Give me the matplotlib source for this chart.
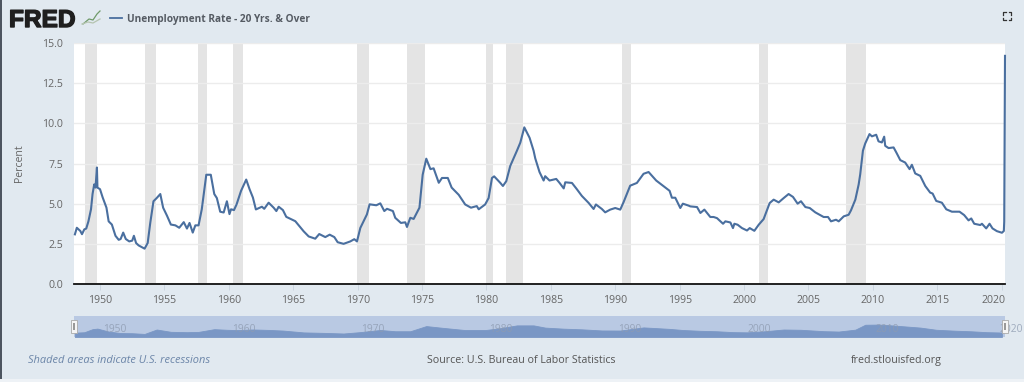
import matplotlib
matplotlib.use("Agg")
import matplotlib.pyplot as plt
import matplotlib.patheffects as pe
from matplotlib.patches import Rectangle
from matplotlib.transforms import ScaledTranslation

W, H = 1024, 382
BG = "#e1e9f0"
LINE = "#4a6f9f"

# decimal year and rate, one pair of lists per stretch
yrs_a = [1948.05, 1948.2, 1948.47, 1948.6, 1948.78, 1948.93, 1949.1, 1949.3, 1949.42, 1949.55,
         1949.65, 1949.76, 1949.8, 1950.0, 1950.2, 1950.5, 1950.67, 1950.92, 1951.2, 1951.45,
         1951.6, 1951.8, 1952.0, 1952.27, 1952.5, 1952.63, 1952.8, 1953.0, 1953.46, 1953.7,
         1953.9, 1954.15, 1954.4, 1954.68, 1954.9, 1955.2, 1955.5, 1955.85, 1956.15, 1956.5,
         1956.75, 1956.95, 1957.2, 1957.4, 1957.65, 1957.9, 1958.25, 1958.6, 1958.87, 1959.07,
         1959.33, 1959.6, 1959.85, 1960.05, 1960.17, 1960.4, 1960.6, 1960.95, 1961.35]
val_a = [3.09, 3.5, 3.3, 3.1, 3.4, 3.45, 3.9, 4.65, 5.6, 6.2,
         6.0, 7.25, 6.0, 5.9, 5.4, 4.75, 3.9, 3.7, 3.0, 2.75,
         2.8, 3.2, 2.8, 2.65, 2.7, 3.0, 2.55, 2.4, 2.2, 2.55,
         3.8, 5.15, 5.35, 5.6, 4.75, 4.25, 3.7, 3.65, 3.5, 3.85,
         3.45, 3.8, 3.2, 3.65, 3.65, 4.65, 6.8, 6.8, 5.6, 5.35,
         4.5, 4.45, 5.15, 4.35, 4.65, 4.6, 4.95, 5.8, 6.5]

yrs_b = [1961.61, 1961.87, 1962.1, 1962.57, 1962.75, 1963.09, 1963.48, 1963.69, 1963.87, 1964.2,
         1964.46, 1964.9, 1965.16, 1965.81, 1966.2, 1966.71, 1967.02, 1967.49, 1967.83, 1968.19,
         1968.45, 1968.91, 1969.43, 1969.74, 1969.95, 1970.21, 1970.72, 1970.93, 1971.45, 1971.76,
         1972.07, 1972.28, 1972.74, 1972.92, 1973.36, 1973.7, 1973.83, 1974.09]
val_b = [5.9, 5.38, 4.64, 4.81, 4.68, 5.06, 4.75, 4.54, 4.81, 4.6,
         4.18, 4.01, 3.91, 3.28, 2.96, 2.82, 3.11, 2.92, 3.07, 2.92,
         2.6, 2.5, 2.65, 2.79, 2.65, 3.49, 4.33, 4.96, 4.9, 5.02,
         4.54, 4.68, 4.54, 4.12, 3.8, 3.84, 3.55, 4.12]

yrs_c = [1974.35, 1974.8, 1975.05, 1975.33, 1975.65, 1975.9, 1976.3, 1976.55, 1977.0, 1977.3,
         1977.85, 1978.35, 1978.8, 1979.25, 1979.4, 1979.9, 1980.17, 1980.43, 1980.6, 1981.07,
         1981.28, 1981.54, 1981.85, 1982.37, 1982.63, 1982.94, 1983.35, 1983.66]
val_c = [4.05, 4.75, 6.8, 7.8, 7.15, 7.2, 6.3, 6.6, 6.6, 6.0,
         5.55, 4.95, 4.75, 4.85, 4.65, 4.95, 5.35, 6.6, 6.7, 6.3,
         6.1, 6.4, 7.35, 8.3, 8.8, 9.75, 9.1, 8.3]

yrs_d = [1983.79, 1984.12, 1984.44, 1984.56, 1984.9, 1985.42, 1985.68, 1986.0, 1986.12, 1986.64,
         1987.02, 1987.41, 1987.93, 1988.32, 1988.5, 1988.96, 1989.22, 1989.61, 1990.0, 1990.39,
         1990.65, 1991.16, 1991.68, 1992.2, 1992.59, 1993.18, 1993.88, 1994.22, 1994.4, 1994.66,
         1995.05, 1995.25, 1995.69]
val_d = [7.82, 6.97, 6.44, 6.71, 6.44, 6.54, 6.29, 5.95, 6.33, 6.29,
         5.9, 5.48, 5.05, 4.67, 4.95, 4.67, 4.46, 4.63, 4.73, 4.63,
         5.1, 6.12, 6.29, 6.86, 6.97, 6.44, 6.01, 5.8, 5.37, 5.37,
         4.73, 5.0, 4.88]

yrs_e = [1995.83, 1996.35, 1996.61, 1996.92, 1997.38, 1997.64, 1997.9, 1998.37, 1998.55, 1998.94,
         1999.14, 1999.25, 1999.5, 1999.84, 2000.23, 2000.44, 2000.8, 2001.14, 2001.52, 2001.99,
         2002.3, 2002.69, 2003.08, 2003.46, 2003.8, 2004.16, 2004.42, 2004.76, 2005.1, 2005.53,
         2006.18, 2006.52, 2006.75, 2007.14, 2007.35, 2007.74, 2008.12, 2008.3, 2008.64, 2008.9]
val_e = [4.83, 4.79, 4.42, 4.63, 4.17, 4.17, 4.1, 3.75, 3.9, 3.83,
         3.48, 3.75, 3.69, 3.48, 3.33, 3.48, 3.31, 3.69, 4.04, 5.04,
         5.25, 5.08, 5.35, 5.6, 5.42, 5.0, 5.15, 4.79, 4.73, 4.46,
         4.17, 4.17, 3.9, 4.0, 3.9, 4.21, 4.31, 4.58, 5.25, 6.2]

yrs_f = [2009.02, 2009.23, 2009.41, 2009.74, 2009.93, 2010.26, 2010.44, 2010.7, 2010.88, 2010.96,
         2011.22, 2011.61, 2011.82, 2012.13, 2012.51, 2012.85, 2013.03, 2013.29, 2013.68, 2014.07,
         2014.45, 2014.64, 2014.92, 2015.36, 2015.7, 2016.14, 2016.4, 2016.73, 2017.09, 2017.43,
         2017.64, 2017.87, 2018.34, 2018.47, 2018.8, 2019.06, 2019.29, 2019.63, 2020.02, 2020.17,
         2020.2, 2020.26]
val_f = [6.83, 8.3, 8.75, 9.33, 9.19, 9.29, 8.88, 8.81, 9.17, 8.6,
         8.46, 8.5, 8.19, 7.71, 7.56, 7.15, 7.42, 6.88, 6.73, 6.1,
         5.69, 5.63, 5.17, 5.06, 4.65, 4.5, 4.5, 4.5, 4.29, 3.96,
         4.08, 3.75, 3.67, 3.75, 3.46, 3.75, 3.46, 3.29, 3.19, 3.3,
         3.9, 14.2]

years = yrs_a + yrs_b + yrs_c + yrs_d + yrs_e + yrs_f
rate = val_a + val_b + val_c + val_d + val_e + val_f

rec_start = [1948.85, 1953.5, 1957.6, 1960.3, 1969.95, 1973.85, 1980.0, 1981.5, 1990.5, 2001.2, 2007.95]
rec_end = [1949.8, 1954.35, 1958.3, 1961.1, 1970.85, 1975.2, 1980.5, 1982.85, 1991.2, 2001.85, 2009.45]

x_ticks = list(range(1950, 2021, 5))
nav_ticks = list(range(1950, 2021, 10))
y_ticks = [0, 2.5, 5, 7.5, 10, 12.5, 15]

XLIM = (1947.98, 2020.26)
FONT = "Open Sans"


def px_axes(fig, left, top, right, bottom, **kw):
    # axes placed in image pixels, top-left origin
    return fig.add_axes([left / W, 1 - bottom / H, (right - left) / W, (bottom - top) / H], **kw)


def ftext(x, y, s, **kw):
    kw.setdefault("family", FONT)
    return fig.text(x / W, 1 - y / H, s, **kw)


fig = plt.figure(figsize=(W / 100, H / 100), dpi=100, facecolor=BG)
fig.add_artist(Rectangle((0, 0), 1.5 / W, 1, transform=fig.transFigure, color="#4d5560", lw=0))
fig.add_artist(Rectangle((0, 0), 1, 3 / H, transform=fig.transFigure, color="#eef2f6", lw=0))

# main chart
ax = px_axes(fig, 74, 43, 1005, 284)
ax.set_xlim(*XLIM)
ax.set_ylim(0, 15)
for a, b in zip(rec_start, rec_end):
    ax.axvspan(a, b, color="#e4e4e4", lw=0, zorder=1)
ax.set_yticks(y_ticks)
ax.set_yticklabels(["%.1f" % v for v in y_ticks])
ax.grid(axis="y", color="#ececec", lw=1, zorder=2)
ax.plot(years, rate, color=LINE, lw=1.5, solid_joinstyle="round", zorder=3, clip_on=False)
for s in ["top", "left", "right"]:
    ax.spines[s].set_visible(False)
ax.spines["bottom"].set_color("#111111")
ax.spines["bottom"].set_linewidth(1.3)
ax.set_xticks(x_ticks)
ax.tick_params(axis="y", length=0, pad=8, labelsize=7.6, labelcolor="#666666")
ax.tick_params(axis="x", length=4, width=0.7, color="#ccd6e0", pad=4, labelsize=7.6, labelcolor="#666666")
for lab in ax.get_xticklabels() + ax.get_yticklabels():
    lab.set_family(FONT)
last = ax.get_xticklabels()[-1]
last.set_transform(last.get_transform() + ScaledTranslation(-8 / 100, 0, fig.dpi_scale_trans))
ax.set_ylabel("Percent", family=FONT, fontsize=7.6, color="#666666")
ax.yaxis.set_label_coords((25 - 74) / 931, 0.5)

# range navigator under the chart, the reference draws it smoothed
nav = px_axes(fig, 74, 316, 1005, 337)
nav.set_xlim(*XLIM)
nav.set_ylim(0, 15)
nav.set_facecolor("#b9c9e3")
nav.fill_between(years[:-2:4], rate[:-2:4], 0, color="#7a97c5", lw=0.6, zorder=2)
nav.set_xticks([])
nav.set_yticks([])
for s in nav.spines.values():
    s.set_visible(False)
for yr in nav_ticks:
    off = -2 if yr == 2020 else 3
    nav.annotate(str(yr), (yr, 5), xytext=(off, 0), textcoords="offset pixels", ha="left", va="center",
                 family=FONT, fontsize=7.4, color="#8e9bb0", alpha=0.8, zorder=3, annotation_clip=False)
for x0 in [71, 1002]:
    fig.add_artist(Rectangle((x0 / W, 1 - 333 / H), 6 / W, 13 / H, transform=fig.transFigure,
                             facecolor="#f5f5f5", edgecolor="#aaaaaa", lw=0.6, zorder=5))
    fig.add_artist(Rectangle(((x0 + 2) / W, 1 - 330 / H), 2 / W, 7 / H, transform=fig.transFigure,
                             facecolor="#999999", lw=0, zorder=6))

# header
logo = ftext(9, 27, "FRED", family="Liberation Sans", fontsize=17.6, fontweight="bold", color="#1f1f1f")
logo.set_path_effects([pe.withStroke(linewidth=1.0, foreground="#1f1f1f")])
fig.add_artist(plt.Line2D([x / W for x in [83, 89, 93, 97, 100]], [1 - y / H for y in [24, 19, 20, 14, 11]],
                          color="#6f9a6a", lw=0.9))
fig.add_artist(plt.Line2D([x / W for x in [82, 88, 93, 100]], [1 - y / H for y in [24, 22, 23, 19]],
                          color="#b5c4b0", lw=0.9))
fig.add_artist(plt.Line2D([110 / W, 122 / W], [1 - 18 / H, 1 - 18 / H], color=LINE, lw=1.3))
ftext(127, 22, "Unemployment Rate - 20 Yrs. & Over", fontsize=7.3, fontweight="bold", color="#555b63")

# fullscreen button
for dx, dy in [(-1, -1), (1, -1), (-1, 1), (1, 1)]:
    cx, cy = 1007 + dx * 4, 16 + dy * 4
    fig.add_artist(plt.Line2D([(cx - dx * 2.5) / W, cx / W, cx / W],
                              [1 - cy / H, 1 - cy / H, 1 - (cy - dy * 2.5) / H], color="#333333", lw=0.9))

# footer
ftext(28, 363, "Shaded areas indicate U.S. recessions", fontsize=7.95, style="italic", color="#6b85a8")
ftext(521, 363, "Source: U.S. Bureau of Labor Statistics", fontsize=7.7, color="#555555", ha="center")
ftext(851, 363, "fred.stlouisfed.org", fontsize=7.7, color="#555555")

fig.savefig("out.png", dpi=100, facecolor=BG)
